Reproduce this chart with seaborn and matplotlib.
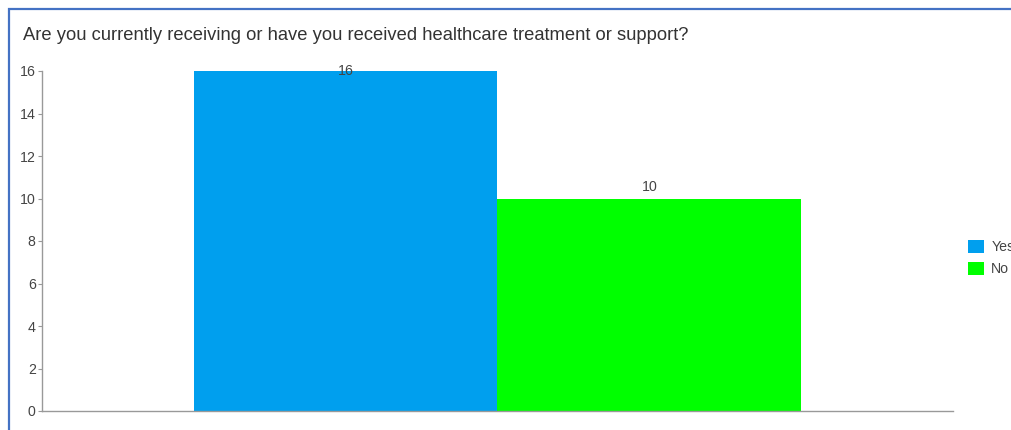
import matplotlib
matplotlib.use("Agg")
import matplotlib.pyplot as plt
import seaborn as sns
import pandas as pd
from matplotlib.patches import Rectangle

title = "Are you currently receiving or have you received healthcare treatment or support?"
categories = ["Yes", "No"]
values = [16, 10]
colors = ["#009FEE", "#00FF00"]
yticks = [0, 2, 4, 6, 8, 10, 12, 14, 16]

sns.set_theme(style="white")
plt.rcParams["font.family"] = ["Liberation Sans", "DejaVu Sans"]

W, H = 1011, 430
fig = plt.figure(figsize=(W / 100, H / 100), dpi=100)
ax = fig.add_axes([42 / W, 19 / H, (953 - 42) / W, (411 - 71) / H])

df = pd.DataFrame({"answer": categories, "count": values})
sns.barplot(data=df, x="answer", y="count", hue="answer", palette=colors,
            width=1.0, saturation=1, legend=False, ax=ax, linewidth=0)

ymax = 16
ax.set_ylim(0, ymax)
ax.set_xlim(-1.0, 2.0)
ax.set_yticks(yticks)
ax.set_yticklabels([str(t) for t in yticks])
ax.set_xticks([])
ax.set_xlabel("")
ax.set_ylabel("")
for s in ["top", "right"]:
    ax.spines[s].set_visible(False)
for s in ["left", "bottom"]:
    ax.spines[s].set_color("#999999")
    ax.spines[s].set_linewidth(1.0)
ax.tick_params(axis="y", direction="out", length=3, width=0.8, color="#999999",
               labelsize=10.2, labelcolor="#444444", pad=1.5, left=True)

for i, v in enumerate(values):
    if v >= ymax:
        ax.annotate(str(v), (i, v), xytext=(0, 0), textcoords="offset points",
                    ha="center", va="center", fontsize=10.2, color="#444444",
                    annotation_clip=False)
    else:
        ax.annotate(str(v), (i, v), xytext=(0, 3), textcoords="offset points",
                    ha="center", va="bottom", fontsize=10.2, color="#444444")

fig.text(23 / W, 1 - 35 / H, title, ha="left", va="center", fontsize=13.2,
         color="#333333")

handles = [Rectangle((0, 0), 1, 1, facecolor=c, edgecolor="none") for c in colors]
fig.legend(handles, categories, loc="center left",
           bbox_to_anchor=(968 / W, 1 - 258 / H), frameon=False,
           fontsize=10.2, labelcolor="#444444", handlelength=1.1,
           handleheight=1.1, handletextpad=0.55, labelspacing=0.5,
           borderaxespad=0, borderpad=0)

border = Rectangle((8.5 / W, -0.1), 1.2, 1 + 0.1 - 8.5 / H, transform=fig.transFigure,
                   fill=False, edgecolor="#4472C4", linewidth=1.6, clip_on=False)
fig.patches.append(border)

fig.savefig("out.png", dpi=100, facecolor="white")
